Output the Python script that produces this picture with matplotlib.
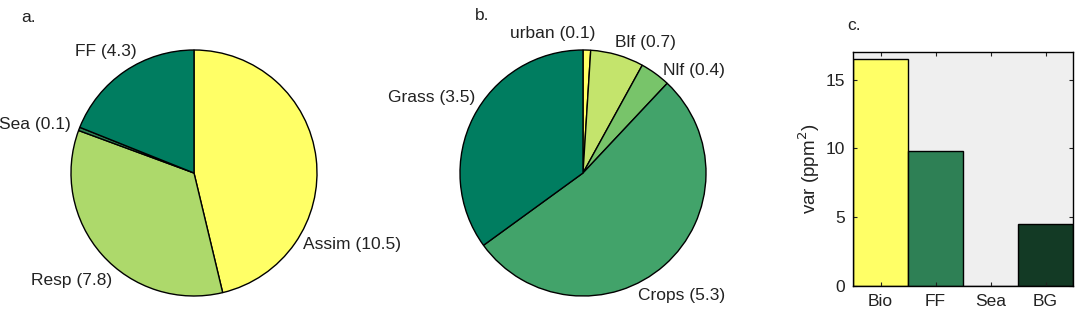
import numpy as np
import matplotlib
matplotlib.use('Agg')
import matplotlib.pyplot as plt

plt.rcParams['font.family'] = ['Liberation Sans', 'DejaVu Sans']

# panel a: flux components
flux_names = ['Assim', 'Resp', 'Sea', 'FF']
flux_vals = [10.5, 7.8, 0.1, 4.3]
flux_colors = ['#FFFF66', '#ADD96B', '#2E8055', '#007D60']

# panel b: land cover types
land_names = ['urban', 'Blf', 'Nlf', 'Crops', 'Grass']
land_vals = [0.1, 0.7, 0.4, 5.3, 3.5]
land_colors = ['#FFFF66', '#C4E46C', '#78C46A', '#42A36A', '#007D60']

# panel c: variance
var_names = ['Bio', 'FF', 'Sea', 'BG']
var_vals = [16.5, 9.8, 0.02, 4.5]
var_colors = ['#FFFF66', '#2E8055', '#EFEFEF', '#133A25']

W, H = 1078, 321
R = 123.0  # pie radius in pixels
fs = 12.5

fig = plt.figure(figsize=(W / 100, H / 100), dpi=100)


def pie_axes(cx, cy, x0, x1):
    # axes spanning full height, data units = pie radius
    ax = fig.add_axes([x0 / W, 0, (x1 - x0) / W, 1])
    return ax, ((x0 - cx) / R, (x1 - cx) / R), (-(H - cy) / R, cy / R)


def draw_pie(ax, xl, yl, vals, names, colors, label_pos):
    labels = ['{} ({})'.format(n, v) for n, v in zip(names, vals)]
    wedges, texts = ax.pie(vals, colors=colors, startangle=90, counterclock=False,
                           labels=labels, labeldistance=1.1,
                           wedgeprops=dict(edgecolor='black', linewidth=1.0),
                           textprops=dict(fontsize=fs, color='#222222'))
    for t, (px, py, ha) in zip(texts, label_pos):
        t.set_position((px, py))
        t.set_ha(ha)
        t.set_va('center')
    ax.set_xlim(*xl)
    ax.set_ylim(*yl)
    ax.set_aspect('auto')
    ax.axis('off')


ax1, xl, yl = pie_axes(194, 173, 0, 388)
draw_pie(ax1, xl, yl, flux_vals, flux_names, flux_colors,
         [(0.89, -0.585, 'left'), (-0.667, -0.87, 'right'),
          (-1.0, 0.398, 'right'), (-0.47, 0.984, 'right')])
ax1.text(0.02, 1 - 18 / H, 'a.', transform=fig.transFigure, fontsize=fs,
         ha='left', va='center', color='#222222')

ax2, xl, yl = pie_axes(583, 173, 400, 800)
draw_pie(ax2, xl, yl, land_vals, land_names, land_colors,
         [(-0.244, 1.138, 'center'), (0.26, 1.065, 'left'), (0.65, 0.837, 'left'),
          (0.447, -0.992, 'left'), (-0.878, 0.61, 'right')])
ax2.text(475 / W, 1 - 15 / H, 'b.', transform=fig.transFigure, fontsize=fs,
         ha='left', va='center', color='#222222')

# panel c
ax3 = fig.add_axes([853 / W, (H - 286) / H, 220 / W, 234 / H])
ax3.set_facecolor('#EFEFEF')
x = np.arange(1, len(var_vals) + 1)
ax3.bar(x, var_vals, width=1.0, color=var_colors, edgecolor='black', linewidth=1.0)
ax3.set_xlim(0.5, 4.5)
ax3.set_ylim(0, 17)
ax3.set_xticks(x)
ax3.set_xticklabels(var_names)
ax3.set_yticks([0, 5, 10, 15])
ax3.tick_params(direction='in', top=True, right=True, labelsize=fs,
                length=3, colors='#222222', pad=6)
ax3.set_ylabel('var (ppm$^2$)', fontsize=13.5, color='#222222', labelpad=2)
for s in ax3.spines.values():
    s.set_linewidth(1.0)
fig.text(847 / W, 1 - 25 / H, 'c.', fontsize=fs, ha='left', va='center',
         color='#222222')

fig.savefig('out.png', dpi=100)
